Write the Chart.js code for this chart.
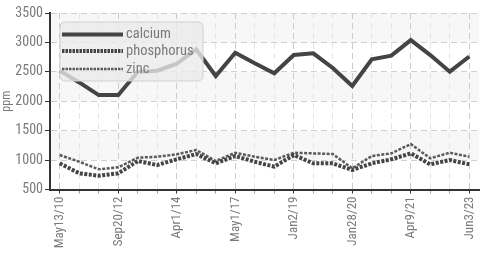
<!DOCTYPE html>
<html>
<head>
<meta charset="utf-8">
<script src="https://cdn.jsdelivr.net/npm/chart.js@4/dist/chart.umd.min.js"></script>
<style>
html,body{margin:0;padding:0;background:#fff;}
#wrap{width:488px;height:254px;position:relative;}
</style>
</head>
<body>
<div id="wrap"><canvas id="c" width="488" height="254"></canvas></div>
<script>
const labels = ["May13/10","Jan7/11","Dec2/11","Sep20/12","Mar5/13","Oct14/13","Apr1/14","Jan12/15","Mar3/16","May1/17","Nov6/17","Jun4/18","Jan2/19","Apr3/19","Aug19/19","Jan28/20","Jun2/20","Nov10/20","Apr9/21","Sep14/21","May9/22","Jun3/23"];
const calcium = [2520,2320,2105,2105,2500,2520,2640,2880,2430,2825,2645,2475,2786,2815,2565,2260,2712,2775,3040,2785,2503,2760];
const phosphorus = [945,775,734,775,984,916,1013,1103,945,1069,972,888,1086,945,945,831,945,1013,1114,928,1001,928];
const zinc = [1086,972,843,877,1040,1057,1098,1171,984,1125,1057,1001,1125,1114,1103,860,1069,1114,1273,1030,1125,1057];
const yTicks = [500,1000,1500,2000,2500,3000,3500];

const TXT = '#7a7a7a';

// choose an installed narrow font, sized to match the reference text widths
const mctx = document.createElement('canvas').getContext('2d');
function w(font, s) { mctx.font = font; return mctx.measureText(s).width; }
const probe = 'May13/10 3500 phosphorus mmWW';
let FAMILY = "'Liberation Sans'";
for (const cand of ["Liberation Sans Narrow", "Arial Narrow", "Roboto Condensed", "DejaVu Sans Condensed"]) {
  const a = w(`20px '${cand}', monospace`, probe), b = w('20px monospace', probe);
  const c = w(`20px '${cand}', serif`, probe), d = w('20px serif', probe);
  if (Math.abs(a - b) > 0.5 && Math.abs(c - d) > 0.5) { FAMILY = `'${cand}'`; break; }
}
const FONT = FAMILY + ", 'Liberation Sans', sans-serif";
function sizeFor(s, target) { return Math.round(20 * target / w(`20px ${FONT}`, s) * 2) / 2; }
const X_SIZE = sizeFor('May13/10', 52);
const Y_SIZE = sizeFor('3500', 28);
const L_SIZE = sizeFor('phosphorus', 67);
const T_SIZE = sizeFor('ppm', 21);

const bands = {
  id: 'bands',
  beforeDraw(chart) {
    const {ctx, chartArea: a, scales: {y}} = chart;
    ctx.save();
    for (let i = 0; i < yTicks.length - 1; i++) {
      const lo = yTicks[i], hi = yTicks[i + 1];
      const top = y.getPixelForValue(hi), bot = y.getPixelForValue(lo);
      ctx.fillStyle = (i % 2 === 1) ? '#f7f7f7' : '#ffffff';
      ctx.fillRect(a.left, top, a.right - a.left, bot - top);
    }
    ctx.restore();
  }
};

const legendBox = {
  id: 'legendBox',
  afterDatasetsDraw(chart) {
    const ctx = chart.ctx;
    const x = 60, y = 22, w = 143, h = 59, r = 5;
    ctx.save();
    ctx.beginPath();
    ctx.moveTo(x + r, y);
    ctx.arcTo(x + w, y, x + w, y + h, r);
    ctx.arcTo(x + w, y + h, x, y + h, r);
    ctx.arcTo(x, y + h, x, y, r);
    ctx.arcTo(x, y, x + w, y, r);
    ctx.closePath();
    ctx.fillStyle = 'rgba(234,234,234,0.78)';
    ctx.fill();
    ctx.strokeStyle = '#d0d0d0';
    ctx.lineWidth = 1;
    ctx.stroke();
    const rows = [34.5, 51, 69];
    chart.data.datasets.forEach((ds, i) => {
      ctx.beginPath();
      ctx.setLineDash(ds.legendDash || []);
      ctx.lineWidth = ds.borderWidth;
      ctx.strokeStyle = ds.borderColor;
      ctx.moveTo(62, rows[i]);
      ctx.lineTo(123, rows[i]);
      ctx.stroke();
      ctx.setLineDash([]);
      ctx.fillStyle = TXT;
      ctx.font = L_SIZE + "px " + FONT;
      ctx.textBaseline = 'middle';
      ctx.textAlign = 'left';
      ctx.fillText(ds.label, 126, rows[i]);
    });
    ctx.restore();
  }
};

new Chart(document.getElementById('c'), {
  type: 'line',
  data: {
    labels: labels,
    datasets: [
      {label: 'calcium', data: calcium, borderColor: '#444', borderWidth: 4, pointRadius: 0, tension: 0, fill: false},
      {label: 'phosphorus', data: phosphorus, borderColor: '#444', borderWidth: 4, borderDash: [3, 1.5], legendDash: [2.5, 1], pointRadius: 0, tension: 0, fill: false},
      {label: 'zinc', data: zinc, borderColor: '#5a5a5a', borderWidth: 2.5, borderDash: [3, 1.5], legendDash: [2.5, 1], pointRadius: 0, tension: 0, fill: false}
    ]
  },
  options: {
    responsive: false,
    animation: false,
    devicePixelRatio: 1,
    layout: {padding: {top: 13, right: 5, left: 0, bottom: 0}},
    plugins: {legend: {display: false}, tooltip: {enabled: false}},
    scales: {
      x: {
        type: 'category',
        offset: true,
        afterFit(s) { s.height = 64.5; },
        grid: {
          offset: false,
          color: (c) => (c.index % 3 === 0 ? '#cccccc' : '#e6e6e6'),
          tickColor: (c) => (c.index % 3 === 0 ? '#333' : '#999'),
          tickLength: 4,
          lineWidth: 1
        },
        border: {display: true, color: '#333', width: 2, dash: [6, 4]},
        ticks: {
          autoSkip: false,
          maxRotation: 90,
          minRotation: 90,
          padding: 3,
          color: TXT,
          font: {family: FONT, size: X_SIZE},
          callback(v, i) { return i % 3 === 0 ? labels[i] : ''; }
        }
      },
      y: {
        min: 500,
        max: 3500,
        afterFit(s) { s.width = 50; },
        afterBuildTicks(s) { s.ticks = yTicks.map(v => ({value: v})); },
        grid: {color: '#d0d0d0', tickColor: '#333', tickLength: 5, lineWidth: 1},
        border: {display: true, color: '#333', width: 2, dash: [6, 4]},
        title: {display: true, text: 'ppm', color: TXT, font: {family: FONT, size: T_SIZE}, padding: {top: 0, bottom: 0}},
        ticks: {color: TXT, font: {family: FONT, size: Y_SIZE}, padding: 2, callback(v) { return String(v); }}
      }
    }
  },
  plugins: [bands, legendBox]
});
</script>
</body>
</html>
